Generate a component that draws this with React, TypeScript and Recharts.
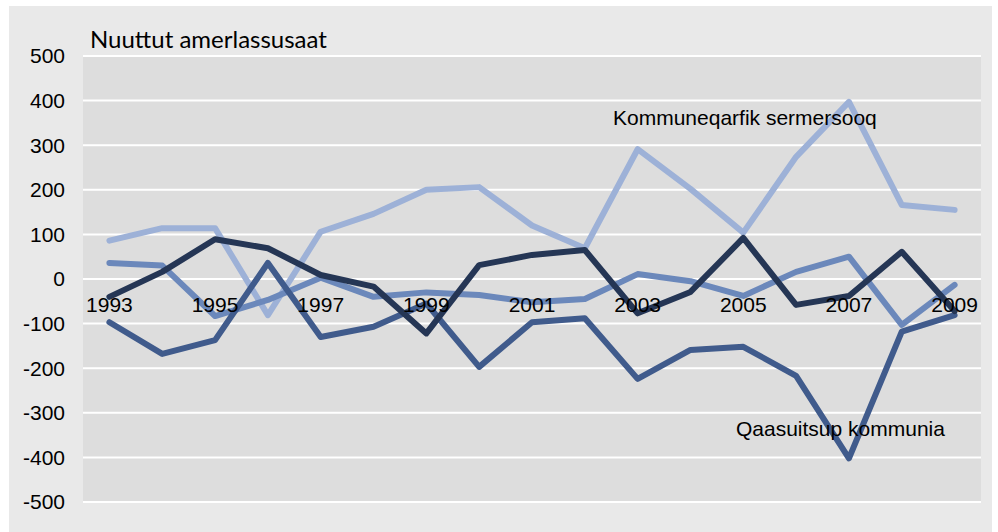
import React from 'react';
import { LineChart, Line, XAxis, YAxis, CartesianGrid, ReferenceDot } from 'recharts';

const years = ['1993','1994','1995','1996','1997','1998','1999','2000','2001','2002','2003','2004','2005','2006','2007','2008','2009'];
const sermersooq = [86, 114, 114, -81, 106, 146, 200, 206, 120, 69, 291, 202, 104, 274, 397, 166, 155];
const seriesB = [36, 30, -83, -47, 3, -40, -30, -36, -52, -45, 11, -5, -38, 16, 50, -103, -13];
const qaasuitsup = [-97, -168, -137, 36, -130, -107, -55, -197, -97, -88, -224, -159, -152, -217, -402, -118, -81];
const seriesD = [-40, 16, 89, 69, 9, -17, -122, 31, 54, 65, -77, -29, 92, -58, -38, 61, -72];
const labelYears = ['1993','1995','1997','1999','2001','2003','2005','2007','2009'];
const yTicks = [-500, -400, -300, -200, -100, 0, 100, 200, 300, 400, 500];

const title = 'Nuuttut amerlassusaat';
const noteA = 'Kommuneqarfik sermersooq';
const noteB = 'Qaasuitsup kommunia';

const data = years.map((y, i) => ({
  year: y,
  a: sermersooq[i],
  b: seriesB[i],
  c: qaasuitsup[i],
  d: seriesD[i],
}));

const ARIAL = '"Liberation Sans", Arial, sans-serif';

export default function App() {
  return (
    <div style={{ position: 'absolute', left: 0, top: 0, width: 998, height: 532, background: '#fff', overflow: 'hidden' }}>
      <div style={{ position: 'absolute', left: 9, top: 6, width: 983, height: 540, background: '#e9e9e9' }} />
      <div style={{ position: 'absolute', left: 0, top: 0 }}>
        <LineChart width={998} height={532} data={data} margin={{ top: 56, right: 17, bottom: 30, left: 0 }}>
          <CartesianGrid vertical={false} stroke="#ffffff" strokeWidth={2} fill="#dddddd" />
          <XAxis dataKey="year" scale="band" hide />
          <YAxis
            domain={[-500, 500]}
            ticks={yTicks}
            interval={0}
            width={83}
            axisLine={false}
            tickLine={false}
            tickSize={0}
            tickMargin={18}
            tick={{ fill: '#000', fontSize: 21, fontFamily: ARIAL }}
          />
          <Line dataKey="a" stroke="#9db1d7" strokeWidth={6} dot={false} isAnimationActive={false} strokeLinejoin="round" strokeLinecap="round" />
          <Line dataKey="b" stroke="#6b88bb" strokeWidth={6} dot={false} isAnimationActive={false} strokeLinejoin="round" strokeLinecap="round" />
          <Line dataKey="c" stroke="#405b8c" strokeWidth={6} dot={false} isAnimationActive={false} strokeLinejoin="round" strokeLinecap="round" />
          <Line dataKey="d" stroke="#253655" strokeWidth={6} dot={false} isAnimationActive={false} strokeLinejoin="round" strokeLinecap="round" />
          {labelYears.map((y) => (
            <ReferenceDot
              key={y}
              x={y}
              y={0}
              r={1}
              fill="none"
              stroke="none"
              label={{ value: y, position: 'bottom', offset: 17, fill: '#000', fontSize: 21, fontFamily: ARIAL }}
            />
          ))}
        </LineChart>
      </div>
      <svg width={998} height={532} style={{ position: 'absolute', left: 0, top: 0, pointerEvents: 'none' }}>
        <text x={90} y={48} fontFamily='Lato, "Open Sans", sans-serif' fontSize={24} fill="#000">{title}</text>
        <text x={613} y={125} fontFamily={ARIAL} fontSize={21} fill="#000">{noteA}</text>
        <text x={736} y={436} fontFamily={ARIAL} fontSize={21} fill="#000">{noteB}</text>
      </svg>
    </div>
  );
}
